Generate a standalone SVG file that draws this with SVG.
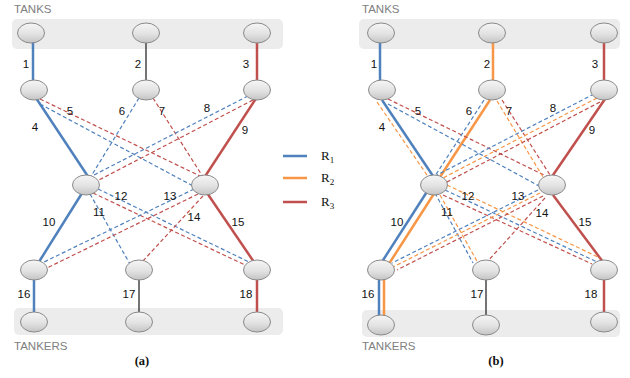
<svg xmlns="http://www.w3.org/2000/svg" width="630" height="378" viewBox="0 0 630 378">
  <defs>
    <linearGradient id="nodeFill" x1="0" y1="0" x2="0" y2="1">
      <stop offset="0" stop-color="#f6f6f6"/>
      <stop offset="0.55" stop-color="#e2e2e2"/>
      <stop offset="1" stop-color="#c4c4c4"/>
    </linearGradient>
    <style>
      .band { fill: #ececec; }
      .node { fill: url(#nodeFill); stroke: #8a8a8a; stroke-width: 1; }
      .s { fill: none; stroke-width: 2.5; }
      .d { fill: none; stroke-width: 1.2; stroke-dasharray: 4 2.5; }
      .b { stroke: #4f81bd; }
      .o { stroke: #f79646; }
      .r { stroke: #c0504d; }
      .k { fill: none; stroke: #2a2a2a; stroke-width: 1.3; }
      .lbl { font-family: "Liberation Sans", Arial, sans-serif; font-size: 11.5px; fill: #111; text-anchor: middle; }
      .hdr { font-family: "Liberation Sans", Arial, sans-serif; font-size: 11.5px; fill: #808080; }
      .cap { font-family: "Liberation Serif", "Times New Roman", serif; font-size: 12.5px; font-weight: bold; fill: #111; text-anchor: middle; }
      .leg { font-family: "Liberation Serif", "Times New Roman", serif; font-size: 13px; fill: #111; }
      .sub { font-size: 9px; }
    </style>
  </defs>
  <rect width="630" height="378" fill="#ffffff"/>

  <!-- ===== Panel (a) ===== -->
  <g id="panel-a">
    <rect class="band" x="12" y="19" width="271" height="30" rx="5"/>
    <rect class="band" x="14" y="308" width="269" height="27" rx="5"/>
    <text class="hdr" x="14" y="13">TANKS</text>
    <text class="hdr" x="14" y="350">TANKERS</text>

    <g id="connectors-a">
      <!-- single-route solid arcs -->
      <line class="s b" x1="33" y1="40" x2="33" y2="85"/>
      <line class="k" x1="146" y1="40" x2="146" y2="85"/>
      <line class="s r" x1="257" y1="40" x2="257" y2="85"/>
      <line class="s b" x1="36" y1="98" x2="89" y2="178"/>
      <line class="s r" x1="257" y1="97" x2="204" y2="178"/>
      <line class="s b" x1="84" y1="190" x2="37" y2="265"/>
      <line class="s r" x1="205" y1="190" x2="256" y2="265"/>
      <line class="s b" x1="34" y1="278" x2="34" y2="315"/>
      <line class="k" x1="139" y1="278" x2="139" y2="315"/>
      <line class="s r" x1="257" y1="278" x2="257" y2="315"/>
      <!-- unused (dashed) arcs -->
      <line class="d r" x1="40" y1="99" x2="202" y2="177"/>
      <line class="d b" x1="40" y1="104" x2="193" y2="186"/>
      <line class="d b" x1="139" y1="98" x2="90" y2="178"/>
      <line class="d r" x1="153" y1="98" x2="203" y2="177"/>
      <line class="d b" x1="248" y1="96" x2="90" y2="177"/>
      <line class="d r" x1="253" y1="100" x2="97" y2="181"/>
      <line class="d b" x1="90" y1="194" x2="130" y2="264"/>
      <line class="d b" x1="98" y1="189" x2="249" y2="262"/>
      <line class="d r" x1="93" y1="193" x2="245" y2="265"/>
      <line class="d b" x1="194" y1="189" x2="42" y2="263"/>
      <line class="d r" x1="198" y1="194" x2="47" y2="268"/>
      <line class="d r" x1="203" y1="196" x2="142" y2="262"/>
    </g>

    <g id="a-tank-1"><ellipse class="node" cx="31" cy="33" rx="13.5" ry="10"/></g>
    <g id="a-tank-2"><ellipse class="node" cx="146" cy="33" rx="13.5" ry="10"/></g>
    <g id="a-tank-3"><ellipse class="node" cx="257" cy="33" rx="13.5" ry="10"/></g>
    <g id="a-n1"><ellipse class="node" cx="34" cy="90" rx="13.5" ry="10"/></g>
    <g id="a-n2"><ellipse class="node" cx="146" cy="90" rx="13.5" ry="10"/></g>
    <g id="a-n3"><ellipse class="node" cx="257" cy="90" rx="13.5" ry="10"/></g>
    <g id="a-n4"><ellipse class="node" cx="86" cy="185" rx="13.5" ry="10"/></g>
    <g id="a-n5"><ellipse class="node" cx="205" cy="185" rx="13.5" ry="10"/></g>
    <g id="a-n6"><ellipse class="node" cx="34" cy="270" rx="13.5" ry="10"/></g>
    <g id="a-n7"><ellipse class="node" cx="139" cy="270" rx="13.5" ry="10"/></g>
    <g id="a-n8"><ellipse class="node" cx="257" cy="270" rx="13.5" ry="10"/></g>
    <g id="a-tanker-1"><ellipse class="node" cx="34" cy="322" rx="13.5" ry="10"/></g>
    <g id="a-tanker-2"><ellipse class="node" cx="139" cy="322" rx="13.5" ry="10"/></g>
    <g id="a-tanker-3"><ellipse class="node" cx="257" cy="322" rx="13.5" ry="10"/></g>

    <g id="arc-labels-a">
      <text class="lbl" x="26" y="68">1</text>
      <text class="lbl" x="138" y="68">2</text>
      <text class="lbl" x="246" y="68">3</text>
      <text class="lbl" x="35" y="131">4</text>
      <text class="lbl" x="70" y="115">5</text>
      <text class="lbl" x="122" y="115">6</text>
      <text class="lbl" x="162" y="115">7</text>
      <text class="lbl" x="207" y="112">8</text>
      <text class="lbl" x="245" y="134">9</text>
      <text class="lbl" x="49" y="226">10</text>
      <text class="lbl" x="99" y="216">11</text>
      <text class="lbl" x="121" y="200">12</text>
      <text class="lbl" x="170" y="200">13</text>
      <text class="lbl" x="194" y="221">14</text>
      <text class="lbl" x="238" y="226">15</text>
      <text class="lbl" x="24" y="298">16</text>
      <text class="lbl" x="129" y="298">17</text>
      <text class="lbl" x="246" y="298">18</text>
    </g>
    <text class="cap" x="142" y="365">(a)</text>
  </g>

  <!-- ===== Legend ===== -->
  <g id="legend">
    <line class="s b" x1="283" y1="156" x2="307" y2="156"/>
    <line class="s o" x1="283" y1="178" x2="307" y2="178"/>
    <line class="s r" x1="283" y1="202" x2="307" y2="202"/>
    <text class="leg" x="321" y="160">R<tspan class="sub" dy="3">1</tspan></text>
    <text class="leg" x="321" y="182">R<tspan class="sub" dy="3">2</tspan></text>
    <text class="leg" x="321" y="206">R<tspan class="sub" dy="3">3</tspan></text>
  </g>

  <!-- ===== Panel (b) ===== -->
  <g id="panel-b">
    <rect class="band" x="359" y="19" width="261" height="30" rx="5"/>
    <rect class="band" x="362" y="310" width="258" height="27" rx="5"/>
    <text class="hdr" x="362" y="13">TANKS</text>
    <text class="hdr" x="362" y="350">TANKERS</text>

    <g id="connectors-b">
      <!-- solid arcs -->
      <line class="s b" x1="380" y1="40" x2="380" y2="85"/>
      <line class="s o" x1="493" y1="40" x2="493" y2="85"/>
      <line class="s r" x1="604" y1="40" x2="604" y2="85"/>
      <line class="s b" x1="382" y1="100" x2="433" y2="176"/>
      <line class="s o" x1="490" y1="100" x2="440" y2="177"/>
      <line class="s r" x1="605" y1="99" x2="551" y2="178"/>
      <line class="s b" x1="430" y1="187" x2="378" y2="268"/>
      <line class="s o" x1="437" y1="189" x2="385" y2="270"/>
      <line class="s r" x1="553" y1="195" x2="603" y2="262"/>
      <line class="s b" x1="379" y1="278" x2="379" y2="318"/>
      <line class="s o" x1="384" y1="278" x2="384" y2="318"/>
      <line class="k" x1="486" y1="278" x2="486" y2="318"/>
      <line class="s r" x1="604" y1="278" x2="604" y2="315"/>
      <!-- dashed arcs -->
      <line class="d o" x1="377" y1="102" x2="429" y2="178"/>
      <line class="d r" x1="388" y1="99" x2="548" y2="177"/>
      <line class="d b" x1="388" y1="104" x2="539" y2="186"/>
      <line class="d b" x1="484" y1="100" x2="435" y2="176"/>
      <line class="d o" x1="497" y1="101" x2="543" y2="177"/>
      <line class="d r" x1="502" y1="100" x2="550" y2="175"/>
      <line class="d b" x1="594" y1="94" x2="437" y2="175"/>
      <line class="d o" x1="597" y1="98" x2="441" y2="179"/>
      <line class="d r" x1="600" y1="102" x2="445" y2="183"/>
      <line class="d b" x1="435" y1="193" x2="473" y2="263"/>
      <line class="d o" x1="440" y1="195" x2="478" y2="263"/>
      <line class="d o" x1="447" y1="185" x2="600" y2="258"/>
      <line class="d b" x1="445" y1="190" x2="597" y2="262"/>
      <line class="d r" x1="443" y1="195" x2="592" y2="264"/>
      <line class="d b" x1="538" y1="190" x2="392" y2="263"/>
      <line class="d o" x1="540" y1="193" x2="393" y2="267"/>
      <line class="d r" x1="543" y1="196" x2="397" y2="270"/>
      <line class="d r" x1="545" y1="198" x2="487" y2="262"/>
    </g>

    <g id="b-tank-1"><ellipse class="node" cx="381" cy="33" rx="13.5" ry="10"/></g>
    <g id="b-tank-2"><ellipse class="node" cx="492" cy="33" rx="13.5" ry="10"/></g>
    <g id="b-tank-3"><ellipse class="node" cx="604" cy="33" rx="13.5" ry="10"/></g>
    <g id="b-n1"><ellipse class="node" cx="382" cy="90" rx="13.5" ry="10"/></g>
    <g id="b-n2"><ellipse class="node" cx="492" cy="90" rx="13.5" ry="10"/></g>
    <g id="b-n3"><ellipse class="node" cx="604" cy="90" rx="13.5" ry="10"/></g>
    <g id="b-n4"><ellipse class="node" cx="434" cy="185" rx="13.5" ry="10"/></g>
    <g id="b-n5"><ellipse class="node" cx="552" cy="185" rx="13.5" ry="10"/></g>
    <g id="b-n6"><ellipse class="node" cx="381" cy="270" rx="13.5" ry="10"/></g>
    <g id="b-n7"><ellipse class="node" cx="486" cy="270" rx="13.5" ry="10"/></g>
    <g id="b-n8"><ellipse class="node" cx="604" cy="270" rx="13.5" ry="10"/></g>
    <g id="b-tanker-1"><ellipse class="node" cx="381" cy="325" rx="13.5" ry="10"/></g>
    <g id="b-tanker-2"><ellipse class="node" cx="486" cy="325" rx="13.5" ry="10"/></g>
    <g id="b-tanker-3"><ellipse class="node" cx="604" cy="322" rx="13.5" ry="10"/></g>

    <g id="arc-labels-b">
      <text class="lbl" x="374" y="68">1</text>
      <text class="lbl" x="487" y="68">2</text>
      <text class="lbl" x="595" y="68">3</text>
      <text class="lbl" x="382" y="131">4</text>
      <text class="lbl" x="418" y="115">5</text>
      <text class="lbl" x="469" y="115">6</text>
      <text class="lbl" x="509" y="115">7</text>
      <text class="lbl" x="553" y="112">8</text>
      <text class="lbl" x="592" y="134">9</text>
      <text class="lbl" x="397" y="226">10</text>
      <text class="lbl" x="447" y="216">11</text>
      <text class="lbl" x="468" y="200">12</text>
      <text class="lbl" x="518" y="200">13</text>
      <text class="lbl" x="542" y="217">14</text>
      <text class="lbl" x="585" y="226">15</text>
      <text class="lbl" x="368" y="298">16</text>
      <text class="lbl" x="477" y="298">17</text>
      <text class="lbl" x="591" y="298">18</text>
    </g>
    <text class="cap" x="496" y="365">(b)</text>
  </g>
</svg>
